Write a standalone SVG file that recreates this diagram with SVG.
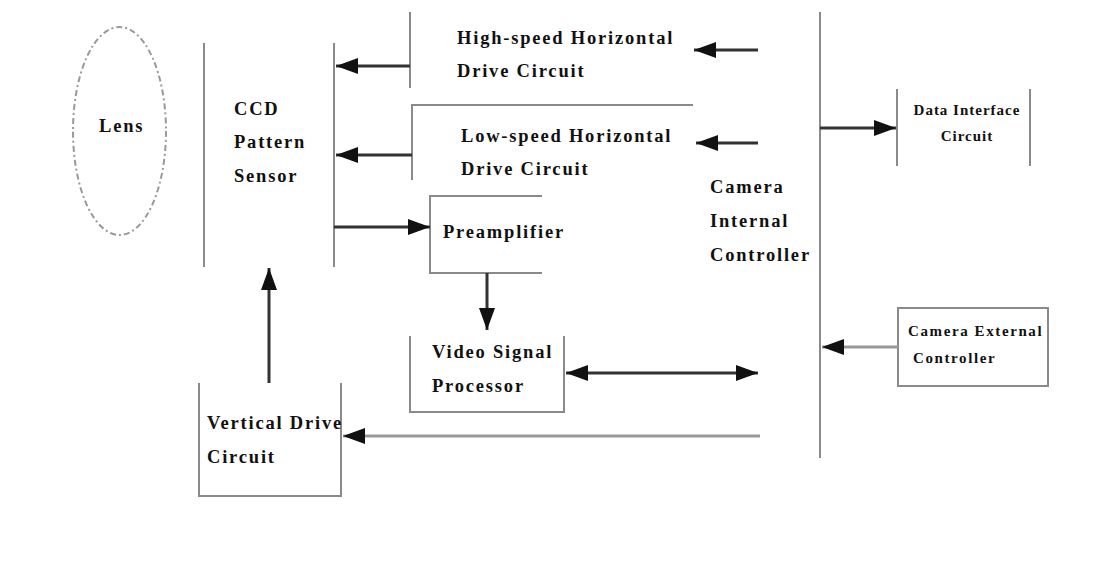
<svg xmlns="http://www.w3.org/2000/svg" width="1110" height="577" viewBox="0 0 1110 577">
<defs>
<style>
.t{font-family:"Liberation Serif","Times New Roman",serif;font-weight:bold;font-size:18.5px;letter-spacing:1.8px;fill:#111}
.s{font-size:15px;letter-spacing:1px}
.s2{font-size:15px;letter-spacing:1.6px}
.box{fill:none;stroke:#8a8a8a;stroke-width:2}
.ar{stroke:#333;stroke-width:3;fill:none}
.lt{stroke:#999;stroke-width:3;fill:none}
</style>
<marker id="ah" markerUnits="userSpaceOnUse" markerWidth="24" markerHeight="18" refX="22" refY="9" orient="auto-start-reverse">
<path d="M0,1 L22,9 L0,17 Z" fill="#111"/>
</marker>
</defs>
<rect width="1110" height="577" fill="#fff"/>
<g id="lens">
<ellipse cx="119.5" cy="131" rx="46.5" ry="104" fill="none" stroke="#999" stroke-width="2" stroke-dasharray="6,3,2,3"/>
<text class="t" x="99" y="132">Lens</text>
</g>
<g id="ccd">
<line class="box" x1="204" y1="43" x2="204" y2="267"/>
<line class="box" x1="334" y1="43" x2="334" y2="267"/>
<text class="t" x="234" y="115">CCD</text>
<text class="t" x="234" y="148">Pattern</text>
<text class="t" x="234" y="182">Sensor</text>
</g>
<g id="hs">
<line class="box" x1="410" y1="12" x2="410" y2="88"/>
<text class="t" x="457" y="44">High-speed Horizontal</text>
<text class="t" x="457" y="77">Drive Circuit</text>
</g>
<g id="ls">
<path class="box" d="M693,105 H412 V180"/>
<text class="t" x="461" y="142">Low-speed Horizontal</text>
<text class="t" x="461" y="175">Drive Circuit</text>
</g>
<g id="preamp">
<path class="box" d="M542,196 H430 V273 H542"/>
<text class="t" x="443" y="238">Preamplifier</text>
</g>
<g id="vsp">
<path class="box" d="M410,336 V412 H564 V336"/>
<text class="t" x="432" y="358">Video Signal</text>
<text class="t" x="432" y="392">Processor</text>
</g>
<g id="vdc">
<path class="box" d="M199,383 V496 H341 V383"/>
<text class="t" x="207" y="429">Vertical Drive</text>
<text class="t" x="207" y="463">Circuit</text>
</g>
<g id="cic">
<line class="box" x1="820" y1="12" x2="820" y2="458"/>
<text class="t" x="710" y="193">Camera</text>
<text class="t" x="710" y="227">Internal</text>
<text class="t" x="710" y="261">Controller</text>
</g>
<g id="dic">
<line class="box" x1="897" y1="89" x2="897" y2="166"/>
<line class="box" x1="1030" y1="89" x2="1030" y2="166"/>
<text class="t s" x="967" y="115" text-anchor="middle">Data Interface</text>
<text class="t s" x="967" y="141" text-anchor="middle">Circuit</text>
</g>
<g id="cec">
<rect class="box" x="898" y="308" width="150" height="78"/>
<text class="t s2" x="908" y="336">Camera External</text>
<text class="t s2" x="913" y="363">Controller</text>
</g>
<g id="connectors">
<line class="ar" x1="410" y1="66" x2="336" y2="66" marker-end="url(#ah)"/>
<line class="ar" x1="412" y1="155" x2="336" y2="155" marker-end="url(#ah)"/>
<line class="ar" x1="334" y1="227" x2="430" y2="227" marker-end="url(#ah)"/>
<line class="ar" x1="758" y1="50" x2="694" y2="50" marker-end="url(#ah)"/>
<line class="ar" x1="758" y1="143" x2="696" y2="143" marker-end="url(#ah)"/>
<line class="ar" x1="820" y1="128" x2="896" y2="128" marker-end="url(#ah)"/>
<line class="ar" x1="487" y1="273" x2="487" y2="330" marker-end="url(#ah)"/>
<line class="ar" x1="566" y1="373" x2="758" y2="373" marker-start="url(#ah)" marker-end="url(#ah)"/>
<line class="ar" x1="269" y1="383" x2="269" y2="268" marker-end="url(#ah)"/>
<line class="lt" x1="760" y1="436" x2="343" y2="436" marker-end="url(#ah)"/>
<line class="lt" x1="898" y1="347" x2="822" y2="347" marker-end="url(#ah)"/>
</g>
</svg>
